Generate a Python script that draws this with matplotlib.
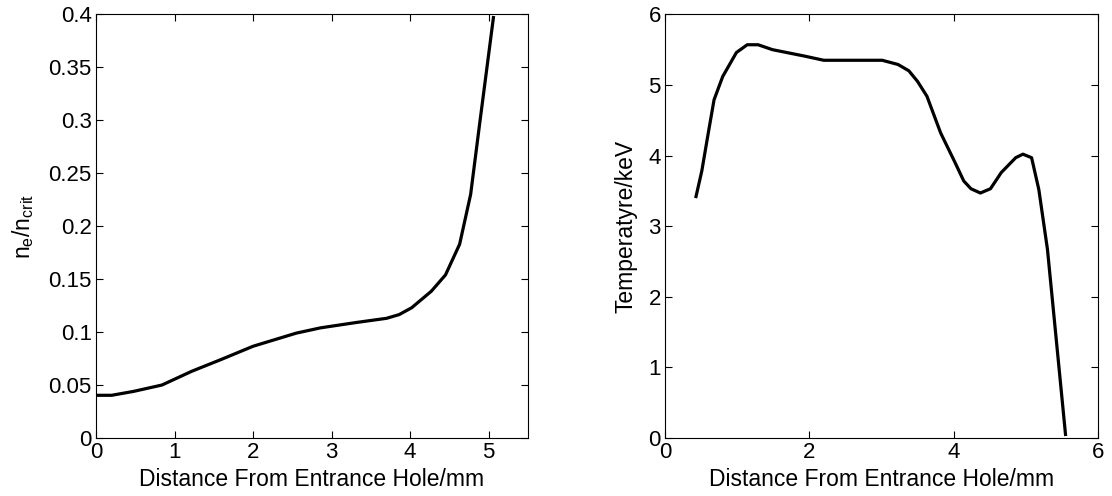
import matplotlib
matplotlib.use("Agg")
from matplotlib import pyplot as plt

plt.rcParams['font.family'] = ['Liberation Sans', 'DejaVu Sans']
plt.rcParams['mathtext.fontset'] = 'custom'
plt.rcParams['mathtext.rm'] = 'Liberation Sans'
plt.rcParams['mathtext.it'] = 'Liberation Sans'

# density profile
density_x = [0.0, 0.2, 0.48, 0.84, 1.22, 1.59, 2.0, 2.55, 2.86, 3.31, 3.70,
             3.86, 4.02, 4.27, 4.45, 4.63, 4.77, 4.88, 5.06]
density_y = [0.0403, 0.0403, 0.044, 0.050, 0.063, 0.074, 0.0866, 0.099, 0.104,
             0.109, 0.113, 0.1165, 0.123, 0.1386, 0.154, 0.183, 0.230, 0.294, 0.397]

# temperature profile
temp_x = [0.43, 0.51, 0.60, 0.68, 0.80, 0.99, 1.14, 1.29, 1.49, 1.93, 2.20, 3.01,
          3.23, 3.38, 3.50, 3.63, 3.82, 4.02, 4.14, 4.24, 4.37, 4.51, 4.66, 4.86,
          4.96, 5.08, 5.18, 5.30, 5.55]
temp_y = [3.42, 3.78, 4.32, 4.79, 5.12, 5.46, 5.57, 5.57, 5.50, 5.41, 5.35, 5.35,
          5.29, 5.20, 5.05, 4.84, 4.32, 3.90, 3.64, 3.53, 3.47, 3.53, 3.76, 3.97,
          4.02, 3.97, 3.52, 2.67, 0.05]

left_yticks = [0, 0.05, 0.1, 0.15, 0.2, 0.25, 0.3, 0.35, 0.4]
left_ylabels = ['0', '0.05', '0.1', '0.15', '0.2', '0.25', '0.3', '0.35', '0.4']

fig = plt.figure(figsize=(11.12, 4.96), dpi=100)
ax1 = fig.add_axes([0.0863, 0.117, 0.3885, 0.854])
ax2 = fig.add_axes([0.598, 0.117, 0.3894, 0.854])

ax1.plot(density_x, density_y, color='black', linewidth=2.3)
ax1.set_xlim(0, 5.5)
ax1.set_ylim(0, 0.4)
ax1.set_xticks([0, 1, 2, 3, 4, 5])
ax1.set_yticks(left_yticks)
ax1.set_yticklabels(left_ylabels)
ax1.set_xlabel('Distance From Entrance Hole/mm', fontsize=16.5)
ax1.set_ylabel(r'n$_\mathregular{e}$/n$_\mathregular{crit}$', fontsize=16.5)
ax1.xaxis.set_label_coords(0.5, -0.071)
ax1.yaxis.set_label_coords(-0.138, 0.5)

ax2.plot(temp_x, temp_y, color='black', linewidth=2.3)
ax2.set_xlim(0, 6)
ax2.set_ylim(0, 6)
ax2.set_xticks([0, 2, 4, 6])
ax2.set_yticks([0, 1, 2, 3, 4, 5, 6])
ax2.set_xlabel('Distance From Entrance Hole/mm', fontsize=16.5)
ax2.set_ylabel('Temperatyre/keV', fontsize=16.5)
ax2.xaxis.set_label_coords(0.5, -0.071)
ax2.yaxis.set_label_coords(-0.063, 0.5)

for ax in (ax1, ax2):
    ax.tick_params(direction='in', top=True, right=True, length=5, width=0.8,
                   labelsize=16, pad=3)
    for s in ax.spines.values():
        s.set_linewidth(0.8)

fig.savefig('out.png', dpi=100)
